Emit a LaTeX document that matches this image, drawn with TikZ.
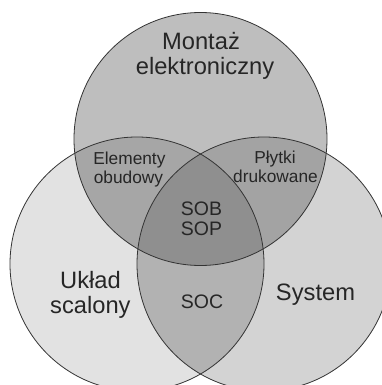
\documentclass[tikz,border=0pt]{standalone}
\usepackage{fontspec}
\setmainfont{Liberation Sans}
\definecolor{cTop}{gray}{0.745}
\definecolor{cLeft}{gray}{0.886}
\definecolor{cRight}{gray}{0.827}
\definecolor{cTL}{gray}{0.65}
\definecolor{cTR}{gray}{0.64}
\definecolor{cLR}{gray}{0.70}
\definecolor{cAll}{gray}{0.56}
\definecolor{txt}{gray}{0.15}
\definecolor{edge}{gray}{0.2}
\tikzset{
  lbl/.style={anchor=base, inner sep=0pt, text=txt},
  big/.style={lbl, font=\fontsize{23.7}{25}\selectfont},
  mid/.style={lbl, font=\fontsize{17.3}{19}\selectfont},
  core/.style={lbl, font=\fontsize{19.5}{20}\selectfont},
  ring/.style={draw=edge, line width=0.8pt}
}
\begin{document}
\begin{tikzpicture}[x=1pt,y=-1pt]
\useasboundingbox (0,0) rectangle (382,385);
\clip (0,0) rectangle (382,385);
\def\TopC{(200.5,139) circle[radius=126.5]}
\def\LeftC{(137,264) circle[radius=127]}
\def\RightC{(264,264) circle[radius=127]}
% single regions
\fill[cLeft] \LeftC;
\fill[cRight] \RightC;
\fill[cTop] \TopC;
% pairwise
\begin{scope}\clip \TopC; \fill[cTL] \LeftC; \end{scope}
\begin{scope}\clip \TopC; \fill[cTR] \RightC; \end{scope}
\begin{scope}\clip \LeftC; \fill[cLR] \RightC; \end{scope}
\begin{scope}\clip \TopC; \clip \LeftC; \fill[cAll] \RightC; \end{scope}
% outlines
\draw[ring] \TopC;
\draw[ring] \LeftC;
\draw[ring] \RightC;
% labels
\node[big] (m1) at (201,50) {Montaż};
\node[big] (m2) at (205,75) {elektroniczny};
\node[mid] (e1) at (129.4,164) {Elementy};
\node[mid] (e2) at (128.5,183) {obudowy};
\node[mid] (p1) at (275,163) {Płytki};
\node[mid] (p2) at (275.5,182) {drukowane};
\node[core] (s1) at (201.5,215) {SOB};
\node[core] (s2) at (201.5,235) {SOP};
\node[big] (u1) at (90.5,288) {Układ};
\node[big] (u2) at (90.4,313) {scalony};
\node[core] (soc) at (202,308) {SOC};
\node[big] (sys) at (315.5,300) {System};
\end{tikzpicture}
\end{document}
